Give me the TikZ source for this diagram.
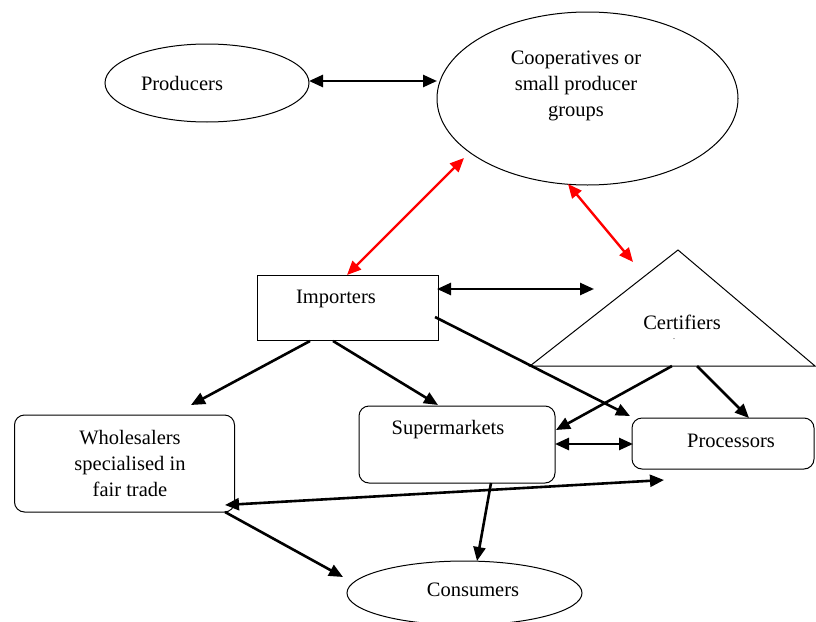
\documentclass[tikz,border=0pt]{standalone}
\usepackage{fontspec}
\setmainfont{Liberation Serif}
\usetikzlibrary{shapes.geometric,arrows.meta}

\begin{document}
\begin{tikzpicture}[x=1pt,y=-1pt,
  outline/.style={draw, line width=1pt, inner sep=0pt},
  oval/.style={outline, ellipse},
  box/.style={outline, rectangle},
  rbox/.style={outline, rectangle, rounded corners=10pt},
  lbl/.style={font=\fontsize{20.5}{26}\selectfont, align=center, inner sep=0pt},
  tip/.tip={Triangle[length=14pt,width=12pt]},
  flow/.style={line width=2.6pt, -tip},
  both/.style={line width=2.6pt, tip-tip},
  redboth/.style={line width=2.4pt, red, tip-tip}]
\useasboundingbox (0,0) rectangle (816,621);

% shapes
\node[oval, minimum width=204pt, minimum height=78pt] (prod) at (207,83) {};
\node[oval, minimum width=301pt, minimum height=173pt] (coop) at (587.5,98.5) {};
\node[box, minimum width=181pt, minimum height=65pt] (imp) at (347.5,308) {};
\node[rbox, minimum width=220pt, minimum height=97pt] (whol) at (124.5,463.5) {};
\node[rbox, minimum width=196pt, minimum height=77pt] (super) at (457,444.5) {};
\node[rbox, minimum width=182pt, minimum height=51pt] (proc) at (723,443.5) {};
\node[oval, minimum width=235pt, minimum height=64pt] (cons) at (464.5,593) {};
\coordinate (tA) at (678,250);
\coordinate (tL) at (530,366);
\coordinate (tR) at (815,366);
\draw[line width=1pt] (tA) -- (tL) -- (tR) -- cycle;

% labels
\node[lbl] (prodT) at (182,83) {Producers};
\node[lbl] (coopT) at (576,86) {Cooperatives or\\small producer\\groups};
\node[lbl] (impT) at (336,299) {Importers};
\node[lbl] (certT) at (682,322) {Certifiers};
\node[lbl, font=\fontsize{8}{8}\selectfont] (certDot) at (674,339) {.};
\node[lbl] (wholT) at (130,463) {Wholesalers\\specialised in\\fair trade};
\node[lbl] (superT) at (448,430) {Supermarkets};
\node[lbl] (procT) at (731,441) {Processors};
\node[lbl] (consT) at (473,590) {Consumers};

% connector end points
\coordinate (a1) at (309,81);   \coordinate (a2) at (437,81);
\coordinate (r1) at (347,275);  \coordinate (r2) at (464,158);
\coordinate (r3) at (568,184);  \coordinate (r4) at (633,262);
\coordinate (b1) at (437,289);  \coordinate (b2) at (594,289);
\coordinate (c1) at (435,317);  \coordinate (c2) at (630,416);
\coordinate (d1) at (672,366);  \coordinate (d2) at (556,430);
\coordinate (e1) at (697,366);  \coordinate (e2) at (749,418);
\coordinate (f1) at (555,444);  \coordinate (f2) at (633,444);
\coordinate (g1) at (310,341);  \coordinate (g2) at (191,405);
\coordinate (h1) at (333,341);  \coordinate (h2) at (438,405);
\coordinate (k1) at (225,505);  \coordinate (k2) at (664,480);
\coordinate (m1) at (491,483);  \coordinate (m2) at (477,561);
\coordinate (n1) at (225,512);  \coordinate (n2) at (343,577);

% connectors
\draw[both] (a1) -- (a2);
\draw[redboth] (r1) -- (r2);
\draw[redboth] (r3) -- (r4);
\draw[both] (b1) -- (b2);
\draw[flow] (c1) -- (c2);
\draw[flow] (d1) -- (d2);
\draw[flow] (e1) -- (e2);
\draw[both] (f1) -- (f2);
\draw[flow] (g1) -- (g2);
\draw[flow] (h1) -- (h2);
\draw[both] (k1) -- (k2);
\draw[flow] (m1) -- (m2);
\draw[flow] (n1) -- (n2);
\end{tikzpicture}
\end{document}
